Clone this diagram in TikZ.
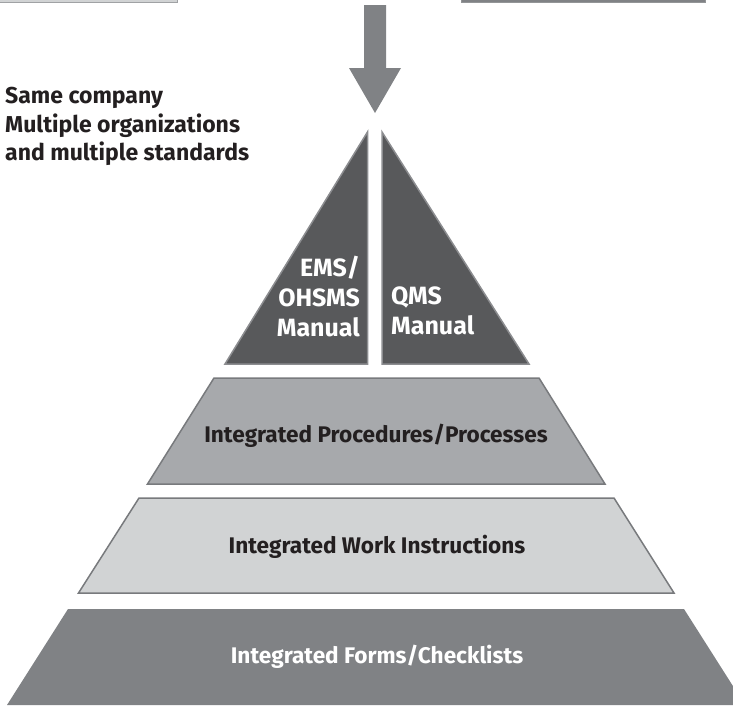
\documentclass[tikz,border=0pt]{standalone}
\usepackage{fontspec}
\setmainfont{Fira Sans}

\definecolor{manualgray}{RGB}{88,89,91}
\definecolor{manualedge}{RGB}{140,141,144}
\definecolor{procgray}{RGB}{167,169,172}
\definecolor{workgray}{RGB}{209,211,212}
\definecolor{formgray}{RGB}{128,130,133}
\definecolor{edgegray}{RGB}{120,122,125}
\definecolor{inkblack}{RGB}{35,31,32}

\begin{document}
\begin{tikzpicture}[x=1pt, y=-1pt,
    tier/.style={draw=edgegray, line width=1.5pt},
    manual/.style={fill=manualgray, draw=manualedge, line width=1.5pt},
    lbl/.style={inner sep=0pt, font=\fontsize{22.6}{30}\selectfont\bfseries},
    darklbl/.style={lbl, text=inkblack},
    lightlbl/.style={lbl, text=white}]
    \useasboundingbox (0,0) rectangle (733,705);

    % Boxes cut off at the top edge
    \draw[fill=workgray, draw=edgegray!70, line width=1pt] (-5,-20) rectangle (177,2.5);
    \draw[fill=formgray, draw=edgegray!80, line width=1pt] (461,-20) rectangle (705,2.5);

    % Arrow down to the manuals
    \fill[formgray] (364,5) -- (386,5) -- (386,68) -- (401,68) -- (375,113)
        -- (349,68) -- (364,68) -- cycle;

    \node[darklbl, anchor=north west, align=left, font=\fontsize{23}{28.5}\selectfont\bfseries]
        (company) at (5,87) {Same company\\Multiple organizations\\and multiple standards};

    % Manuals
    \draw[manual] (367.5,132) -- (367.5,364) -- (225,364) -- cycle;
    \draw[manual] (382,132) -- (529,364) -- (382,364) -- cycle;
    \node[lightlbl, anchor=north east, align=right, font=\fontsize{25}{30}\selectfont\bfseries]
        (ems) at (360,256) {EMS/\\OHSMS\\Manual};
    \node[lightlbl, anchor=north west, align=left, font=\fontsize{25}{30}\selectfont\bfseries]
        (qms) at (391,287) {QMS\\Manual};

    % Tiers
    \draw[tier, fill=procgray] (214,378) -- (539,378) -- (605,484) -- (147.5,484) -- cycle;
    \node[darklbl, anchor=base] (proc) at (376,442) {Integrated Procedures/Processes};

    \draw[tier, fill=workgray] (139,498) -- (614,498) -- (674,593) -- (78.5,593) -- cycle;
    \node[darklbl, anchor=base] (work) at (377,553) {Integrated Work Instructions};

    \fill[formgray] (68,609) -- (684,609) -- (745,705) -- (7,705) -- cycle;
    \node[lightlbl, anchor=base] (forms) at (377,663) {Integrated Forms/Checklists};
\end{tikzpicture}
\end{document}
